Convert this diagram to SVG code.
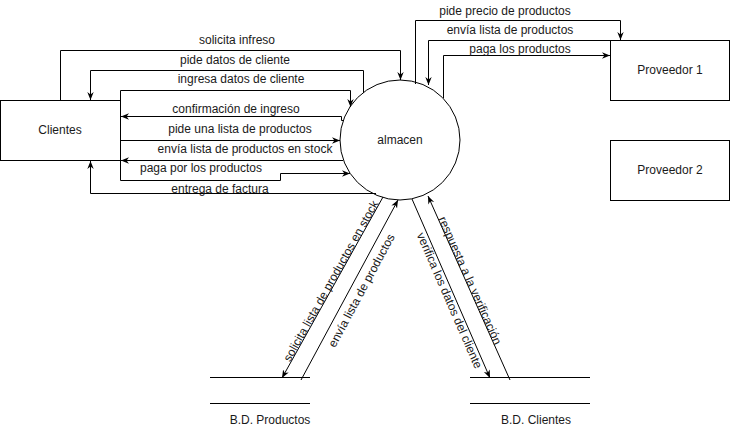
<svg xmlns="http://www.w3.org/2000/svg" width="731" height="431" viewBox="0 0 731 431">
<style>
.box{fill:#fff;stroke:#000;stroke-width:1}
.t{font-family:"Liberation Sans",Arial,sans-serif;font-size:12px;fill:#1a1a1a;text-anchor:middle}
.c{fill:none;stroke:#000;stroke-width:1}
.a{marker-end:url(#arr)}
</style>
<defs>
<marker id="arr" viewBox="0 0 10 10" refX="10" refY="5" markerWidth="8" markerHeight="8" markerUnits="userSpaceOnUse" orient="auto">
<path d="M0,1 L10,5 L0,9 L3,5 z" fill="#000"/>
</marker>
</defs>
<rect width="731" height="431" fill="#fff"/>
<g id="clientes"><rect class="box" x="0.5" y="100.5" width="120" height="60"/><text class="t" x="60" y="134">Clientes</text></g>
<g id="almacen"><circle class="box" cx="400" cy="140" r="60"/><text class="t" x="400" y="144">almacen</text></g>
<g id="proveedor1"><rect class="box" x="610.5" y="40.5" width="119" height="60"/><text class="t" x="670" y="74">Proveedor 1</text></g>
<g id="proveedor2"><rect class="box" x="610.5" y="140.5" width="119" height="60"/><text class="t" x="670" y="174">Proveedor 2</text></g>
<g id="bd-productos"><path class="c" d="M210 377.5H310M210 403.5H310"/><text class="t" x="270" y="424">B.D. Productos</text></g>
<g id="bd-clientes"><path class="c" d="M470 377.5H590M470 403.5H590"/><text class="t" x="536" y="424">B.D. Clientes</text></g>
<g id="connectors">
<path class="c a" d="M60.5 100V50.5H400.5V80"/>
<path class="c a" d="M363.5 93V70.5H90.5V100"/>
<path class="c a" d="M120.5 100V90.5H350.5V107"/>
<path class="c a" d="M343 120.5H341.5V116.5H121"/>
<path class="c a" d="M121 140.5H340"/>
<path class="c a" d="M343 160.5H121"/>
<path class="c a" d="M120.5 161V180.5H280.5V173.5H350"/>
<path class="c a" d="M376 193.5H90.5V161"/>
<path class="c a" d="M415.5 84V20.5H620.5V40"/>
<path class="c a" d="M610 40.5H428.5V85"/>
<path class="c a" d="M443.5 98V55.5H610"/>
<path class="c a" d="M383 197L282 378"/>
<path class="c a" d="M301 380L398 200"/>
<path class="c a" d="M412 199L490 378"/>
<path class="c a" d="M510 380L428 196"/>
<text class="t" x="237" y="44">solicita infreso</text>
<text class="t" x="235" y="64">pide datos de cliente</text>
<text class="t" x="241" y="83">ingresa datos de cliente</text>
<text class="t" x="236" y="113">confirmación de ingreso</text>
<text class="t" x="240" y="133">pide una lista de productos</text>
<text class="t" x="245" y="153">envía lista de productos en stock</text>
<text class="t" x="201" y="172">paga por los productos</text>
<text class="t" x="220" y="193">entrega de factura</text>
<text class="t" x="505" y="15">pide precio de productos</text>
<text class="t" x="510" y="34">envía lista de productos</text>
<text class="t" x="520" y="53">paga los productos</text>
<text class="t" transform="translate(331 281) rotate(-60.8)" y="4">solicita lista de productos en stock</text>
<text class="t" transform="translate(361.5 290.5) rotate(-61.7)" y="4">envía lista de productos</text>
<text class="t" transform="translate(449.5 300.5) rotate(66.5)" y="4">verifica los datos del cliente</text>
<text class="t" transform="translate(470 280.5) rotate(66)" y="4">respuesta a la verificación</text>
</g>
</svg>
